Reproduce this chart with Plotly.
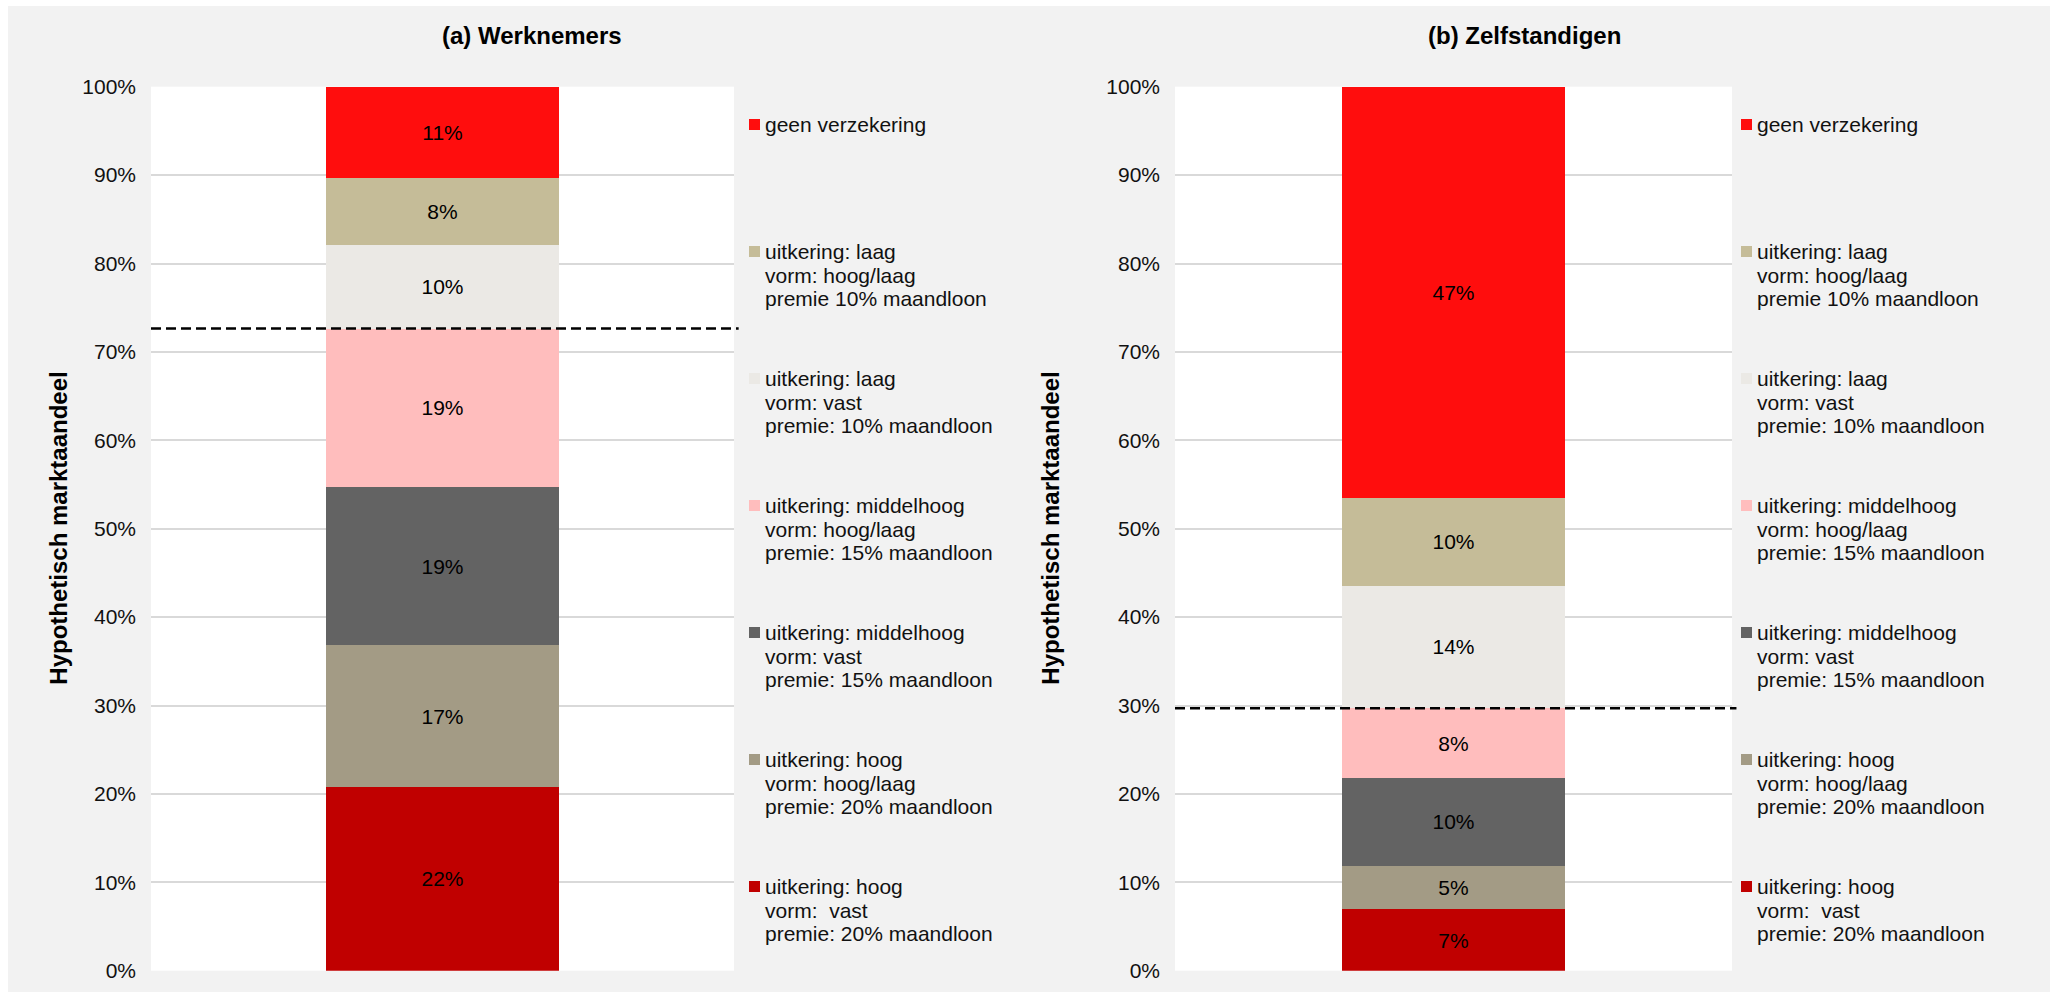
import plotly.graph_objects as go

# Segments from bottom to top of each stacked bar
segments = [
    "hoog / vast",
    "hoog / hoog-laag",
    "middelhoog / vast",
    "middelhoog / hoog-laag",
    "laag / vast",
    "laag / hoog-laag",
    "geen verzekering",
]
colors = ["#C00000", "#A39B85", "#636363", "#FFBDBD", "#EBE9E5", "#C5BC98", "#FF0D0D"]

werknemers = [22, 17, 19, 19, 10, 8, 11]
zelfstandigen = [7, 5, 10, 8, 14, 10, 47]

# Legend text (top to bottom), one list of lines per entry
legend_lines = [
    ["geen verzekering"],
    ["uitkering: laag", "vorm: hoog/laag", "premie 10% maandloon"],
    ["uitkering: laag", "vorm: vast", "premie: 10% maandloon"],
    ["uitkering: middelhoog", "vorm: hoog/laag", "premie: 15% maandloon"],
    ["uitkering: middelhoog", "vorm: vast", "premie: 15% maandloon"],
    ["uitkering: hoog", "vorm: hoog/laag", "premie: 20% maandloon"],
    ["uitkering: hoog", "vorm:  vast", "premie: 20% maandloon"],
]
legend_colors = colors[::-1]

panel_titles = ["(a) Werknemers", "(b) Zelfstandigen"]
y_title = "Hypothetisch marktaandeel"
y_ticks = list(range(0, 101, 10))
y_ticktext = [f"{t}%" for t in y_ticks]

W, H = 2053, 992
FONT = "Liberation Sans, Arial, sans-serif"
TXT = "#111111"


def px(xp):
    return xp / W


def py(yp):
    return 1 - yp / H


# Plot-area geometry in pixels: (left, right) per panel, shared top/bottom
panels_x = [(151, 734), (1175, 1732)]
plot_top, plot_bottom = 86.7, 970.7
legend_x = [(749, 763), (1741, 1755)]
title_x = [532, 1524]
ytitle_x = [59, 1051]

fig = go.Figure()

for p, vals in enumerate([werknemers, zelfstandigen]):
    xa = "x" if p == 0 else "x2"
    ya = "y" if p == 0 else "y2"
    for name, color, v in zip(segments, colors, vals):
        fig.add_trace(go.Bar(
            x=["bar"], y=[v], name=name,
            marker=dict(color=color, line=dict(width=0)),
            text=[f"{v}%"], textposition="inside", insidetextanchor="middle",
            textangle=0, textfont=dict(family=FONT, size=21, color="#000000"),
            showlegend=False, hoverinfo="skip",
            xaxis=xa, yaxis=ya,
        ))

axis_y = dict(
    range=[0, 100], tickvals=y_ticks, ticktext=y_ticktext,
    showgrid=True, gridcolor="#D9D9D9", gridwidth=1.5,
    zeroline=False, showline=False, ticks="", automargin=False,
    tickfont=dict(family=FONT, size=21, color=TXT),
    ticklabelstandoff=14, fixedrange=True,
)
axis_x = dict(showticklabels=False, showgrid=False, zeroline=False, automargin=False,
              showline=False, ticks="", fixedrange=True)

ydom = [py(plot_bottom), py(plot_top)]
fig.update_layout(
    width=W, height=H,
    margin=dict(l=0, r=0, t=0, b=0, pad=0, autoexpand=False),
    paper_bgcolor="#F2F2F2", plot_bgcolor="#FFFFFF",
    barmode="stack", barnorm="percent", bargap=0.6,
    font=dict(family=FONT, size=21, color=TXT),
    xaxis=dict(axis_x, domain=[px(panels_x[0][0]), px(panels_x[0][1])], anchor="y"),
    xaxis2=dict(axis_x, domain=[px(panels_x[1][0]), px(panels_x[1][1])], anchor="y2"),
    yaxis=dict(axis_y, domain=ydom, anchor="x"),
    yaxis2=dict(axis_y, domain=ydom, anchor="x2"),
    showlegend=False,
)

shapes = []
annotations = []

# white border strips around the grey chart area
shapes += [
    dict(type="rect", xref="paper", yref="paper", x0=0, x1=1, y0=py(6), y1=1,
         fillcolor="#FFFFFF", line=dict(width=0), layer="below"),
    dict(type="rect", xref="paper", yref="paper", x0=0, x1=px(8), y0=0, y1=1,
         fillcolor="#FFFFFF", line=dict(width=0), layer="below"),
    dict(type="rect", xref="paper", yref="paper", x0=px(2050), x1=1, y0=0, y1=1,
         fillcolor="#FFFFFF", line=dict(width=0), layer="below"),
]

for p, vals in enumerate([werknemers, zelfstandigen]):
    xd = "x domain" if p == 0 else "x2 domain"
    yr = "y" if p == 0 else "y2"
    # dashed divider above the four insured "hoog/middelhoog" segments
    cut = sum(vals[:4]) / sum(vals) * 100
    shapes.append(dict(type="line", xref=xd, yref=yr, x0=0, x1=1.008, y0=cut, y1=cut,
                       line=dict(color="#000000", width=2.5, dash="10px,5px"),
                       layer="above"))

    # panel title
    annotations.append(dict(text=f"<b>{panel_titles[p]}</b>", xref="paper", yref="paper",
                            x=px(title_x[p]), y=py(35), xanchor="center", yanchor="middle",
                            showarrow=False, font=dict(family=FONT, size=24, color="#000000")))
    # y-axis title
    annotations.append(dict(text=f"<b>{y_title}</b>", xref="paper", yref="paper",
                            x=px(ytitle_x[p]), y=py((plot_top + plot_bottom) / 2),
                            xanchor="center", yanchor="middle", textangle=-90,
                            showarrow=False, font=dict(family=FONT, size=24, color="#000000")))

    # legend: coloured squares with multi-line labels
    mx, tx = legend_x[p]
    for k, (lines, col) in enumerate(zip(legend_lines, legend_colors)):
        y0 = 124.5 + 127 * k
        shapes.append(dict(type="rect", xref="paper", yref="paper",
                           x0=px(mx), x1=px(mx + 11), y0=py(y0 + 5.5), y1=py(y0 - 5.5),
                           fillcolor=col, line=dict(width=0)))
        for j, line in enumerate(lines):
            annotations.append(dict(text=line.replace("  ", "&nbsp; "), xref="paper", yref="paper",
                                    x=px(tx), y=py(y0 + 23.5 * j), xanchor="left",
                                    yanchor="middle", showarrow=False,
                                    font=dict(family=FONT, size=21, color=TXT)))

fig.update_layout(shapes=shapes, annotations=annotations)

# the page body gets no default margin so the figure fills the window exactly
fig.write_html(
    "out.html",
    post_script="document.body.style.margin='0';document.body.style.overflow='hidden';",
)
